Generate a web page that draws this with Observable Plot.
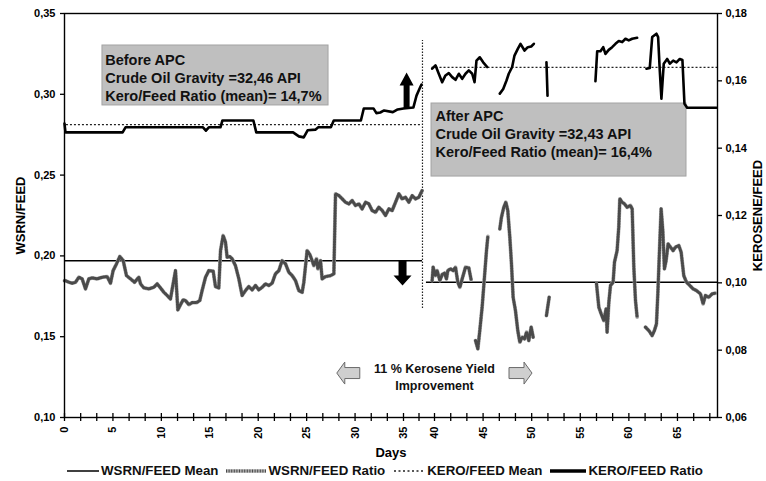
<!DOCTYPE html>
<html><head><meta charset="utf-8">
<script src="https://cdn.jsdelivr.net/npm/d3@7"></script>
<script src="https://cdn.jsdelivr.net/npm/@observablehq/plot@0.6"></script>
<style>
body{margin:0;background:#fff;font-family:"Liberation Sans",Arial,sans-serif;}
#legend{display:flex;justify-content:center;align-items:center;height:21px;font-size:13.3px;font-weight:bold;margin-left:4px;white-space:nowrap;color:#111}
.item{display:flex;align-items:center;margin:0 4px}
.item svg{margin-right:2px}
</style></head><body><div id="chart"></div><div id="legend"></div>
<script>
// ---------- data ----------
const xTickLabels = [0, 5, 10, 15, 20, 25, 30, 35, 40, 45, 50, 55, 60, 65];
const xMinorTicks = [0, 1.67, 3.33, 5, 6.67, 8.33, 10, 11.67, 13.33, 15, 16.67, 18.33, 20, 21.67, 23.33, 25, 26.67, 28.33, 30, 31.67, 33.33, 35, 37.5, 40, 41.67, 43.33, 45, 46.67, 48.33, 50, 51.67, 53.33, 55, 56.67, 58.33, 60, 61.67, 63.33, 65, 66.67, 68.33];
const wsrnTicks = [0.10, 0.15, 0.20, 0.25, 0.30, 0.35];
const keroTicks = [0.06, 0.08, 0.10, 0.12, 0.14, 0.16, 0.18];

// WSRN/FEED ratio (left axis), segments [day, value]
const wsrnBefore = [[0,0.1847],[0.10,0.1847],[0.45,0.1837],[0.79,0.1831],[1.14,0.1837],[1.48,0.1868],[1.82,0.1858],[2.17,0.1796],[2.51,0.1858],[2.86,0.1864],[3.37,0.1858],[3.89,0.1868],[4.41,0.1872],[4.75,0.1831],[5.02,0.1909],[5.37,0.1951],[5.71,0.1996],[6.06,0.1971],[6.40,0.1878],[6.81,0.1858],[7.23,0.1837],[7.67,0.1868],[7.85,0.1827],[8.19,0.1802],[8.71,0.1796],[9.22,0.1806],[9.57,0.1827],[9.91,0.1802],[10.26,0.1775],[10.60,0.1755],[10.94,0.1734],[11.46,0.1909],[11.70,0.1666],[11.98,0.1699],[12.25,0.1728],[12.49,0.1724],[12.84,0.1699],[13.18,0.1711],[13.63,0.1711],[13.97,0.1724],[14.21,0.1786],[14.56,0.1868],[14.90,0.1909],[15.35,0.1905],[15.59,0.1810],[15.93,0.1802],[16.11,0.2033],[16.38,0.2126],[16.62,0.2085],[16.79,0.1992],[17.07,0.1996],[17.31,0.1982],[17.65,0.1940],[18.00,0.1858],[18.34,0.1755],[18.69,0.1786],[19.03,0.1810],[19.38,0.1790],[19.72,0.1817],[20.06,0.1790],[20.41,0.1806],[20.75,0.1827],[21.10,0.1817],[21.44,0.1831],[21.78,0.1889],[22.13,0.1909],[22.47,0.1971],[22.82,0.1951],[23.16,0.1899],[23.51,0.1878],[23.85,0.1847],[24.19,0.1786],[24.54,0.1775],[24.71,0.1837],[25.05,0.2033],[25.33,0.2008],[25.57,0.1971],[25.74,0.1940],[26.02,0.1982],[26.16,0.1920],[26.43,0.1971],[26.60,0.1858],[26.95,0.1872],[27.46,0.1878],[27.81,0.1889],[27.98,0.2384],[28.32,0.2374],[28.67,0.2353],[29.01,0.2332],[29.36,0.2322],[29.70,0.2343],[30.04,0.2312],[30.39,0.2322],[30.73,0.2291],[31.08,0.2332],[31.42,0.2322],[31.76,0.2281],[32.11,0.2270],[32.45,0.2301],[32.80,0.2281],[33.14,0.2250],[33.49,0.2291],[33.83,0.2281],[34.18,0.2332],[34.52,0.2384],[34.86,0.2353],[35.32,0.2363],[35.86,0.2332],[36.40,0.2373],[36.94,0.2353],[37.47,0.2363],[38.0,0.2404]];
const wsrnAfter1 = [[39.62,0.1847],[39.78,0.1930],[40.10,0.1878],[40.27,0.1909],[40.55,0.1847],[40.79,0.1885],[41.03,0.1893],[41.23,0.1858],[41.37,0.1909],[41.65,0.1920],[41.92,0.1909],[42.16,0.1930],[42.40,0.1837],[42.61,0.1806],[42.85,0.1858],[43.19,0.1930],[43.53,0.1926],[43.77,0.1852]];
const wsrnAfter2 = [[44.22,0.1476],[44.46,0.1425],[44.66,0.1538],[44.90,0.1682],[45.14,0.1868],[45.35,0.2033],[45.49,0.2120]];
const wsrnAfter3 = [[46.72,0.2167],[46.89,0.2239],[47.13,0.2301],[47.34,0.2332],[47.54,0.2281],[47.75,0.2116],[47.92,0.1951],[48.09,0.1744],[48.33,0.1662],[48.57,0.1538],[48.78,0.1466],[49.02,0.1497],[49.26,0.1486],[49.47,0.1528],[49.70,0.1476],[49.95,0.1559],[50.15,0.1497]];
const wsrnAfter4 = [[51.52,0.1631],[51.80,0.1744]];
const wsrnAfter5 = [[56.67,0.1827],[56.91,0.1682],[57.15,0.1641],[57.42,0.1600],[57.66,0.1672],[57.76,0.1528],[57.94,0.1713],[58.11,0.1817],[58.38,0.1837],[58.52,0.1961],[58.79,0.2033],[58.96,0.2178],[59.07,0.2353],[59.31,0.2332],[59.55,0.2322],[59.82,0.2301],[60.16,0.2312],[60.34,0.2291],[60.51,0.1930],[60.68,0.1724],[60.85,0.1621]];
const wsrnAfter6 = [[61.71,0.1559],[62.05,0.1538],[62.39,0.1507],[62.63,0.1538],[62.84,0.1579],[62.98,0.1765],[63.15,0.2033],[63.32,0.2291],[63.49,0.2157],[63.66,0.1920],[63.83,0.1971],[64.04,0.2074],[64.28,0.2054],[64.55,0.2033],[64.79,0.2054],[65.14,0.2064],[65.38,0.2023],[65.65,0.1878],[65.93,0.1837],[66.27,0.1817],[66.61,0.1796],[66.95,0.1786],[67.37,0.1765],[67.64,0.1703],[67.88,0.1755],[68.22,0.1744],[68.57,0.1765],[68.91,0.1769]];

// KERO/FEED ratio (right axis), segments [day, value]
const keroBefore = [[0,0.1473],[0.1,0.1447],[6.0,0.1447],[6.3,0.1462],[14.3,0.1462],[14.6,0.1452],[14.9,0.1462],[16.1,0.1462],[16.3,0.1482],[19.5,0.1482],[19.8,0.1447],[23.6,0.1447],[24.2,0.1435],[24.7,0.1432],[25.1,0.1453],[25.9,0.1455],[26.2,0.1462],[27.5,0.1462],[27.8,0.1482],[30.6,0.1482],[30.9,0.1518],[31.9,0.1518],[32.2,0.1504],[32.6,0.1506],[33.0,0.1512],[33.9,0.1507],[34.4,0.1515],[35.0,0.1518],[36.6,0.1521],[37.1,0.1556],[37.6,0.1577],[37.9,0.1589]];
const keroAfter1 = [[39.63,0.1636],[40.10,0.1646],[40.44,0.1621],[40.79,0.1596],[41.13,0.1616],[41.47,0.1623],[41.82,0.1611],[42.16,0.1603],[42.50,0.1621],[42.85,0.1606],[43.19,0.1621],[43.53,0.1631],[43.88,0.1621],[44.12,0.1596],[44.32,0.1660],[44.66,0.1670],[45.01,0.1655],[45.42,0.1641]];
const keroAfter2 = [[46.72,0.1562],[47.07,0.1576],[47.41,0.1601],[47.64,0.1621],[47.99,0.1641],[48.23,0.1675],[48.57,0.1695],[48.85,0.1710],[49.26,0.1690],[49.60,0.1700],[49.95,0.1702],[50.22,0.1710]];
const keroAfter3 = [[51.52,0.1655],[51.63,0.1556]];
const keroAfter4 = [[56.56,0.1599],[56.74,0.1688],[57.08,0.1688],[57.36,0.1700],[57.59,0.1680],[57.93,0.1692],[58.28,0.1700],[58.62,0.1710],[58.96,0.1718],[59.31,0.1715],[59.65,0.1725],[59.99,0.1720],[60.34,0.1725],[60.85,0.1728]];
const keroAfter5 = [[61.81,0.1636],[62.15,0.1638],[62.40,0.1730],[62.84,0.1740],[63.01,0.1730],[63.18,0.1631],[63.35,0.1547],[63.59,0.1651],[63.94,0.1665],[64.21,0.1651],[64.56,0.1660],[64.90,0.1655],[65.24,0.1665],[65.51,0.1662],[65.72,0.1532],[66.00,0.1520],[69.01,0.1520]];

// means
const wsrnMean = [{x1: 0, x2: 38.06, v: 0.197}, {x1: 38.7, x2: 69.12, v: 0.1837}];
const keroMean = [{x1: 0.2, x2: 38.06, v: 0.147}, {x1: 39.6, x2: 69.12, v: 0.164}];
const apcStart = [{d: 38.06, y1: 0.1674, y2: 0.3333}];

// annotations
const boxes = [{x1: 3.92, x2: 27.26, y1: 0.2931, y2: 0.3302}, {x1: 39.52, x2: 65.93, y1: 0.2491, y2: 0.2943}];
const boxTexts = [
  {d: 4.2, v: 0.3262, t: "Before APC\nCrude Oil Gravity =32,46 API\nKero/Feed Ratio (mean)= 14,7%"},
  {d: 40.1, v: 0.2914, t: "After APC\nCrude Oil Gravity =32,43 API\nKero/Feed Ratio (mean)= 16,4%"}
];
const improveText = [{d: 40.0, v: 0.1352, t: "11 % Kerosene Yield\nImprovement"}];
const upArrow = [{d: 35.5, v: 0.3023}];
const downArrow = [{d: 34.9, v: 0.1894}];
const leftArrow = [{d: 29.3, v: 0.1275}];
const rightArrow = [{d: 48.85, v: 0.1275}];

// ---------- helpers ----------
const toLeft = k => 0.10 + (k - 0.06) / 0.12 * 0.25;
const toKero = v => 0.06 + (v - 0.10) / 0.25 * 0.12;
const fmt = v => (Math.round(v * 100) / 100).toFixed(2).replace(".", ",");
function rows(segs, conv = v => v) {
  const out = [];
  segs.forEach((s, i) => {
    if (i) out.push({d: null, v: null});
    s.forEach(([d, v]) => out.push({d, v: conv(v)}));
  });
  return out;
}
const wsrnRows = rows([wsrnBefore, wsrnAfter1, wsrnAfter2, wsrnAfter3, wsrnAfter4, wsrnAfter5, wsrnAfter6]);
const keroRows = rows([keroBefore, keroAfter1, keroAfter2, keroAfter3, keroAfter4, keroAfter5], toLeft);
const keroMeanRows = keroMean.map(m => ({...m, v: toLeft(m.v)}));

function blockArrow(len, shaftW, headW, headL) {
  return {draw(ctx) {
    const h = len / 2;
    ctx.moveTo(-shaftW / 2, h);
    ctx.lineTo(-shaftW / 2, -h + headL);
    ctx.lineTo(-headW / 2, -h + headL);
    ctx.lineTo(0, -h);
    ctx.lineTo(headW / 2, -h + headL);
    ctx.lineTo(shaftW / 2, -h + headL);
    ctx.lineTo(shaftW / 2, h);
    ctx.closePath();
  }};
}

const font = '"Liberation Sans", Arial, sans-serif';

const chart = Plot.plot({
  width: 766,
  height: 460,
  marginLeft: 64,
  marginRight: 49,
  marginTop: 13,
  marginBottom: 43,
  style: {fontFamily: font, fontSize: "11px", fontWeight: "bold", background: "#fff", color: "#000", overflow: "visible"},
  x: {type: "linear", domain: [0, 35, 40, 69.12], range: [64, 403, 434, 717]},
  y: {domain: [0.10, 0.35]},
  marks: [
    Plot.rect(boxes, {x1: "x1", x2: "x2", y1: "y1", y2: "y2", fill: "#bfbfbf", stroke: "#a3a3a3", strokeWidth: 1}),
    Plot.text(boxTexts, {x: "d", y: "v", text: "t", textAnchor: "start", lineAnchor: "top", fontSize: 14.5, lineHeight: 1.24, fontWeight: "bold", fill: "#111"}),
    Plot.text(improveText, {x: "d", y: "v", text: "t", textAnchor: "middle", lineAnchor: "top", fontSize: 12.5, lineHeight: 1.36, fontWeight: "bold", fill: "#111"}),
    Plot.ruleY(wsrnMean, {y: "v", x1: "x1", x2: "x2", stroke: "#000", strokeWidth: 1.5}),
    Plot.ruleY(keroMeanRows, {y: "v", x1: "x1", x2: "x2", stroke: "#222", strokeWidth: 1.2, strokeDasharray: "2,2"}),
    Plot.ruleX(apcStart, {x: "d", y1: "y1", y2: "y2", stroke: "#222", strokeWidth: 1.2, strokeDasharray: "1.5,1.5"}),
    Plot.line(wsrnRows, {x: "d", y: "v", stroke: "#ababab", strokeWidth: 3.8, strokeLinejoin: "round"}),
    Plot.line(wsrnRows, {x: "d", y: "v", stroke: "#4a4a4a", strokeWidth: 3.0, strokeDasharray: "1,1.6", strokeLinejoin: "round"}),
    Plot.line(keroRows, {x: "d", y: "v", stroke: "#000", strokeWidth: 2.6, strokeLinejoin: "round"}),
    Plot.dot(upArrow, {x: "d", y: "v", symbol: blockArrow(36, 6, 14, 13), fill: "#000", stroke: "none"}),
    Plot.dot(downArrow, {x: "d", y: "v", symbol: blockArrow(25, 8, 18, 10), rotate: 180, fill: "#000", stroke: "none"}),
    Plot.dot(leftArrow, {x: "d", y: "v", symbol: blockArrow(23, 11, 22, 8), rotate: -90, fill: "#cfcfcf", stroke: "#6a6a6a", strokeWidth: 1}),
    Plot.dot(rightArrow, {x: "d", y: "v", symbol: blockArrow(23, 11, 22, 8), rotate: 90, fill: "#cfcfcf", stroke: "#6a6a6a", strokeWidth: 1}),
    Plot.frame({stroke: "#000", strokeWidth: 1.4}),
    Plot.ruleX(xMinorTicks, {x: d => d, y1: 0.10, y2: 0.10, insetTop: -4, insetBottom: -4, stroke: "#000", strokeWidth: 1.3}),
    Plot.axisX(xTickLabels, {anchor: "bottom", tickSize: 0, tickPadding: 9, tickRotate: -90, tickFormat: d => String(d), label: null, fontSize: 11, fontWeight: "bold"}),
    Plot.axisY(wsrnTicks, {anchor: "left", tickSize: 4, tickPadding: 5, tickFormat: fmt, label: null, strokeWidth: 1.3, fontSize: 11, fontWeight: "bold"}),
    Plot.axisY(keroTicks.map(toLeft), {anchor: "right", tickSize: 4, tickPadding: 4, tickFormat: d => fmt(toKero(d)), label: null, strokeWidth: 1.3, fontSize: 11, fontWeight: "bold"}),
    Plot.text(["WSRN/FEED"], {frameAnchor: "left", dx: -44, rotate: -90, text: d => d, fontSize: 13, fontWeight: "bold", textAnchor: "middle"}),
    Plot.text(["KEROSENE/FEED"], {frameAnchor: "right", dx: 40, rotate: -90, text: d => d, fontSize: 13, fontWeight: "bold", textAnchor: "middle"}),
    Plot.text(["Days"], {frameAnchor: "bottom", dy: 35, text: d => d, fontSize: 13, fontWeight: "bold", lineAnchor: "middle"})
  ]
});
document.getElementById("chart").append(chart);

// legend
const legendItems = [
  {label: "WSRN/FEED Mean", w: 32, sw: '<line x1="0" y1="5" x2="32" y2="5" stroke="#000" stroke-width="1.5"/>'},
  {label: "WSRN/FEED Ratio", w: 40, sw: '<line x1="0" y1="5" x2="40" y2="5" stroke="#ababab" stroke-width="3.5"/><line x1="0" y1="5" x2="40" y2="5" stroke="#4a4a4a" stroke-width="2.8" stroke-dasharray="1,1.6"/>'},
  {label: "KERO/FEED Mean", w: 32, sw: '<line x1="1" y1="5" x2="31" y2="5" stroke="#222" stroke-width="1.5" stroke-dasharray="2,2.5"/>'},
  {label: "KERO/FEED Ratio", w: 36, sw: '<line x1="0" y1="5" x2="36" y2="5" stroke="#000" stroke-width="3.5"/>'}
];
const lg = document.getElementById("legend");
legendItems.forEach(it => {
  const el = document.createElement("span");
  el.className = "item";
  el.innerHTML = `<svg width="${it.w}" height="10">${it.sw}</svg><span>${it.label}</span>`;
  lg.append(el);
});
</script></body></html>
